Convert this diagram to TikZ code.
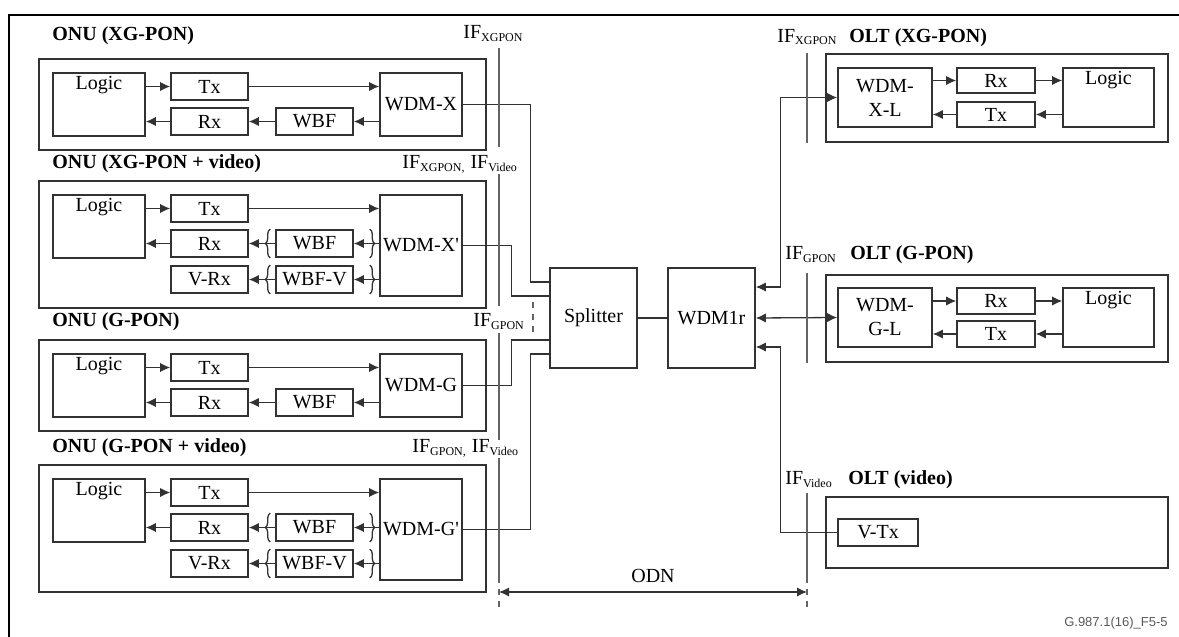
\documentclass[tikz,border=0pt]{standalone}
\usepackage{fontspec}
\setmainfont{Liberation Serif}
\newfontfamily\figsans{Liberation Sans}
\usepackage{tikz}
\usetikzlibrary{arrows.meta, positioning, decorations.pathreplacing}
\usepackage{xcolor}
\definecolor{linegray}{RGB}{50,50,50}
\definecolor{ifgray}{RGB}{100,100,100}
\newcommand{\iflbl}[1]{IF\textsubscript{\fontsize{6}{7}\selectfont #1}}

\begin{document}
\begin{tikzpicture}[x=0.5pt, y=-0.5pt,
    blk/.style={rectangle, draw=linegray, line width=0.8pt, inner sep=0pt},
    sbox/.style={blk, minimum width=38.5pt, minimum height=13.5pt},
    lbox/.style={blk, minimum width=46pt, minimum height=31.5pt},
    wbox/.style={blk, minimum width=41pt, minimum height=31.5pt},
    wvbox/.style={wbox, minimum height=50.5pt},
    frame/.style={rectangle, draw=linegray, line width=0.9pt, minimum width=223.5pt},
    lgc/.style={anchor=north, inner sep=2pt},
    ttl/.style={anchor=base west, inner sep=0pt, font=\bfseries},
    iftxt/.style={anchor=base west, inner sep=0pt},
    arr/.style={draw=linegray, line width=0.65pt, -{Latex[length=5pt,width=4.6pt]}},
    darr/.style={draw=linegray, line width=0.65pt, {Latex[length=5pt,width=4.6pt]}-{Latex[length=5pt,width=4.6pt]}},
    wire/.style={draw=linegray, line width=0.65pt},
    brc/.style={draw=linegray, line width=0.65pt, decorate, decoration={brace, amplitude=2.5pt}},
    ifl/.style={draw=ifgray, line width=0.8pt}]
  \useasboundingbox (0,0) rectangle (1179,637);
  \draw[line width=1.2pt] (9,637) -- (9,15) -- (1179,15);

  % ONU (XG-PON)
  \node[ttl] (onu1t) at (52,40) {ONU (XG-PON)};
  \node[frame, minimum height=45.5pt] (onu1) at (262.5,104.5) {};
  \node[lbox, label={[lgc]north:Logic}] (l1) at (99,104.5) {};
  \node[sbox] (t1) at (209.5,86.5) {Tx};
  \node[sbox] (r1) at (209.5,121.5) {Rx};
  \node[sbox] (b1) at (314.5,121.5) {WBF};
  \node[wbox] (w1) at (421,104.5) {WDM-X};
  \draw[arr] (l1.east |- t1.west) -- (t1.west);
  \draw[arr] (t1.east) -- (w1.west |- t1.east);
  \draw[arr] (w1.west |- b1.east) -- (b1.east);
  \draw[arr] (b1.west) -- (r1.east);
  \draw[arr] (r1.west) -- (l1.east |- r1.west);

  % ONU (XG-PON + video)
  \node[ttl] (onu2t) at (52,168) {ONU (XG-PON + video)};
  \node[frame, minimum height=63.5pt] (onu2) at (262.5,244.5) {};
  \node[lbox, label={[lgc]north:Logic}] (l2) at (99,226.5) {};
  \node[sbox] (t2) at (209.5,208.5) {Tx};
  \node[sbox] (r2) at (209.5,243.5) {Rx};
  \node[sbox] (v2) at (209.5,279.5) {V-Rx};
  \node[sbox] (b2) at (314.5,243.5) {WBF};
  \node[sbox] (bv2) at (314.5,279.5) {WBF-V};
  \node[wvbox] (w2) at (421,245.5) {WDM-X\textquotesingle};
  \draw[arr] (l2.east |- t2.west) -- (t2.west);
  \draw[arr] (t2.east) -- (w2.west |- t2.east);
  \draw[arr] (w2.west |- b2.east) -- (b2.east);
  \draw[arr] (b2.west) -- (r2.east);
  \draw[arr] (r2.west) -- (l2.east |- r2.west);
  \draw[arr] (w2.west |- bv2.east) -- (bv2.east);
  \draw[arr] (bv2.west) -- (v2.east);
  \draw[brc] ([xshift=-2.5pt]b2.south west) -- ([xshift=-2.5pt]b2.north west);
  \draw[brc] ([xshift=8pt]b2.north east) -- ([xshift=8pt]b2.south east);
  \draw[brc] ([xshift=-2.5pt]bv2.south west) -- ([xshift=-2.5pt]bv2.north west);
  \draw[brc] ([xshift=8pt]bv2.north east) -- ([xshift=8pt]bv2.south east);

  % ONU (G-PON)
  \node[ttl] (onu3t) at (52,326) {ONU (G-PON)};
  \node[frame, minimum height=45.5pt] (onu3) at (262.5,385.5) {};
  \node[lbox, label={[lgc]north:Logic}] (l3) at (99,385.5) {};
  \node[sbox] (t3) at (209.5,367.5) {Tx};
  \node[sbox] (r3) at (209.5,402.5) {Rx};
  \node[sbox] (b3) at (314.5,402.5) {WBF};
  \node[wbox] (w3) at (421,385.5) {WDM-G};
  \draw[arr] (l3.east |- t3.west) -- (t3.west);
  \draw[arr] (t3.east) -- (w3.west |- t3.east);
  \draw[arr] (w3.west |- b3.east) -- (b3.east);
  \draw[arr] (b3.west) -- (r3.east);
  \draw[arr] (r3.west) -- (l3.east |- r3.west);

  % ONU (G-PON + video)
  \node[ttl] (onu4t) at (52,452) {ONU (G-PON + video)};
  \node[frame, minimum height=63.5pt] (onu4) at (262.5,528.5) {};
  \node[lbox, label={[lgc]north:Logic}] (l4) at (99,510.5) {};
  \node[sbox] (t4) at (209.5,492.5) {Tx};
  \node[sbox] (r4) at (209.5,527.5) {Rx};
  \node[sbox] (v4) at (209.5,563.5) {V-Rx};
  \node[sbox] (b4) at (314.5,527.5) {WBF};
  \node[sbox] (bv4) at (314.5,563.5) {WBF-V};
  \node[wvbox] (w4) at (421,529.5) {WDM-G\textquotesingle};
  \draw[arr] (l4.east |- t4.west) -- (t4.west);
  \draw[arr] (t4.east) -- (w4.west |- t4.east);
  \draw[arr] (w4.west |- b4.east) -- (b4.east);
  \draw[arr] (b4.west) -- (r4.east);
  \draw[arr] (r4.west) -- (l4.east |- r4.west);
  \draw[arr] (w4.west |- bv4.east) -- (bv4.east);
  \draw[arr] (bv4.west) -- (v4.east);
  \draw[brc] ([xshift=-2.5pt]b4.south west) -- ([xshift=-2.5pt]b4.north west);
  \draw[brc] ([xshift=8pt]b4.north east) -- ([xshift=8pt]b4.south east);
  \draw[brc] ([xshift=-2.5pt]bv4.south west) -- ([xshift=-2.5pt]bv4.north west);
  \draw[brc] ([xshift=8pt]bv4.north east) -- ([xshift=8pt]bv4.south east);

  % ODN
  \node[blk, minimum width=43.5pt, minimum height=50pt] (sp) at (593.5,318) {Splitter};
  \node[blk, minimum width=43.5pt, minimum height=50pt] (wd) at (711.5,318) {WDM1r};
  \draw[wire] (sp.east) -- (wd.west);
  \draw[wire] (w1.east) -| ([xshift=-9.5pt,yshift=18pt]sp.west) -- ([yshift=18pt]sp.west);
  \draw[wire] (w2.east) -| ([xshift=-19pt,yshift=11pt]sp.west) -- ([yshift=11pt]sp.west);
  \draw[wire] (w3.east) -| ([xshift=-19pt,yshift=-11pt]sp.west) -- ([yshift=-11pt]sp.west);
  \draw[wire] (w4.east) -| ([xshift=-9.5pt,yshift=-18pt]sp.west) -- ([yshift=-18pt]sp.west);

  % OLT (XG-PON)
  \node[ttl] (olt1t) at (849,42) {OLT (XG-PON)};
  \node[frame, minimum width=171pt, minimum height=44pt] (olt1) at (997,98) {};
  \node[blk, minimum width=47pt, minimum height=29.5pt, align=center] (wx) at (885,97.5) {WDM-\\X-L};
  \node[blk, minimum width=39pt, minimum height=12.5pt] (rx1) at (996,80.5) {Rx};
  \node[blk, minimum width=39pt, minimum height=12.5pt] (tx1) at (996,114.5) {Tx};
  \node[blk, minimum width=45.5pt, minimum height=29.5pt, label={[lgc]north:Logic}] (lo1) at (1108.5,97.5) {};
  \draw[arr] (wx.east |- rx1.west) -- (rx1.west);
  \draw[arr] (rx1.east) -- (lo1.west |- rx1.east);
  \draw[arr] (lo1.west |- tx1.east) -- (tx1.east);
  \draw[arr] (tx1.west) -- (wx.east |- tx1.west);

  % OLT (G-PON)
  \node[ttl] (olt2t) at (850,259) {OLT (G-PON)};
  \node[frame, minimum width=171pt, minimum height=43.5pt] (olt2) at (997,318.5) {};
  \node[blk, minimum width=47pt, minimum height=29.5pt, align=center] (wg) at (885,317.5) {WDM-\\G-L};
  \node[blk, minimum width=39pt, minimum height=13pt] (rx2) at (996,301) {Rx};
  \node[blk, minimum width=39pt, minimum height=13pt] (tx2) at (996,334) {Tx};
  \node[blk, minimum width=45.5pt, minimum height=29.5pt, label={[lgc]north:Logic}] (lo2) at (1108.5,317.5) {};
  \draw[arr] (wg.east |- rx2.west) -- (rx2.west);
  \draw[arr] (rx2.east) -- (lo2.west |- rx2.east);
  \draw[arr] (lo2.west |- tx2.east) -- (tx2.east);
  \draw[arr] (tx2.west) -- (wg.east |- tx2.west);

  % OLT (video)
  \node[ttl] (olt3t) at (848,484) {OLT (video)};
  \node[frame, minimum width=171pt, minimum height=35.5pt] (olt3) at (997,532.5) {};
  \node[blk, minimum width=40pt, minimum height=13.5pt] (vt) at (878,532.5) {V-Tx};

  \draw[darr] ([yshift=15.5pt]wd.east) -- ([xshift=12.5pt,yshift=15.5pt]wd.east) |- (wx.west);
  \draw[darr] (wd.east) -- (wg.west);
  \draw[arr] (vt.west) -| ([xshift=12.5pt,yshift=-14.5pt]wd.east) -- ([yshift=-14.5pt]wd.east);

  % interfaces
  \node[iftxt] (if1) at (463,39) {\iflbl{XGPON}};
  \node[iftxt] (if2) at (402,168) {\iflbl{XGPON,} \iflbl{Video}};
  \node[iftxt] (if3) at (473,326) {\iflbl{GPON}};
  \node[iftxt] (if4) at (412,452) {\iflbl{GPON,} \iflbl{Video}};
  \node[iftxt] (if5) at (777,42) {\iflbl{XGPON}};
  \node[iftxt] (if6) at (785,259) {\iflbl{GPON}};
  \node[iftxt] (if7) at (785,484) {\iflbl{Video}};
  \draw[ifl] (499,48) -- (499,147);
  \draw[ifl] (499,174) -- (499,306);
  \draw[ifl] (499,333) -- (499,440);
  \draw[ifl] (499,458) -- (499,577);
  \draw[ifl, dashed] (499,577) -- (499,610);
  \draw[ifl, dashed] (533,302) -- (533,336);
  \draw[ifl] (807,53) -- (807,143);
  \draw[ifl] (807,273) -- (807,363);
  \draw[ifl] (807,493) -- (807,577);
  \draw[ifl, dashed] (807,577) -- (807,610);

  \coordinate (odnl) at (499,592);
  \coordinate (odnr) at (807,592);
  \draw[darr] (odnl) -- (odnr) node[midway, above=1pt] (odn) {ODN};

  \node[anchor=base east, inner sep=0pt, font=\figsans\fontsize{6.5}{8}\selectfont, text=black!65] (fig) at (1168,626) {G.987.1(16)\_F5-5};
\end{tikzpicture}
\end{document}
